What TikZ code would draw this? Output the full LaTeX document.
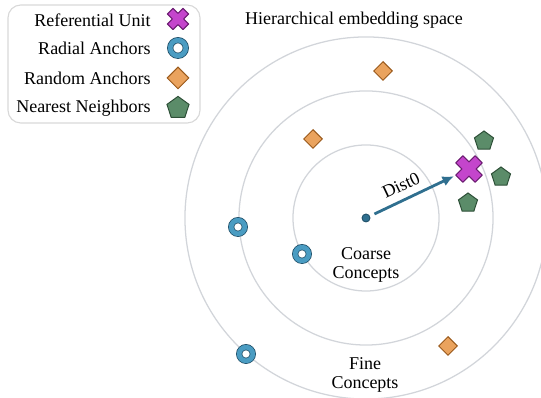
\documentclass[tikz,border=0pt]{standalone}
\usepackage{fontspec}
\setmainfont{Liberation Serif}
\usepackage{xcolor}
\usetikzlibrary{shapes.geometric,arrows.meta}
\definecolor{gris}{HTML}{D2D5DA}
\definecolor{grisCadre}{HTML}{D8D8D8}
\definecolor{violetX}{HTML}{C445CC}
\definecolor{violetBord}{HTML}{6A1C70}
\definecolor{bleuAnneau}{HTML}{4A9CC2}
\definecolor{bleuBord}{HTML}{1E4D66}
\definecolor{bleuFleche}{HTML}{2F6F8F}
\definecolor{orangeLosange}{HTML}{EAA35E}
\definecolor{orangeBord}{HTML}{9A5A1C}
\definecolor{vertPenta}{HTML}{5B8C69}
\definecolor{vertBord}{HTML}{2D4F37}

\begin{document}
\begin{tikzpicture}[x=0.025cm,y=-0.025cm]
% Styles
\tikzstyle{texte}=[font=\fontsize{12.8}{13.5}\selectfont,inner sep=0pt]
\tikzstyle{cercle}=[draw=gris,line width=0.9pt]
\tikzstyle{cadre}=[draw=grisCadre,line width=0.8pt,rounded corners=0.32cm]
\tikzstyle{fleche}=[-{Latex[length=8pt,width=7.5pt]},line width=2pt,draw=bleuFleche,shorten <=3.5pt,shorten >=4pt]
\tikzstyle{croix}=[fill=violetX,draw=violetBord,line width=0.8pt,line join=round]
\tikzstyle{anneau}=[circle,inner sep=0pt,minimum size=0.34cm,fill=white,draw=bleuBord,double=bleuAnneau,double distance=3.3pt,line width=0.55pt]
\tikzstyle{losange}=[diamond,inner sep=0pt,minimum size=0.475cm,fill=orangeLosange,draw=orangeBord,line width=0.7pt]
\tikzstyle{penta}=[regular polygon,regular polygon sides=5,inner sep=0pt,minimum size=0.5cm,fill=vertPenta,draw=vertBord,line width=0.7pt]
\tikzstyle{point}=[circle,inner sep=0pt,minimum size=0.2cm,fill=bleuFleche,draw=bleuBord,line width=0.6pt]
\tikzstyle{place}=[circle,inner sep=0pt,minimum size=0.55cm]
% Dimensions
\def\RayonA{1.825cm}
\def\RayonB{3.175cm}
\def\RayonC{4.525cm}
\newcommand\DessineCroix[2]{\draw[croix,shift={(#1)},rotate=45,scale=#2] (4,4) -- (4,11) -- (-4,11) -- (-4,4) -- (-11,4) -- (-11,-4) -- (-4,-4) -- (-4,-11) -- (4,-11) -- (4,-4) -- (11,-4) -- (11,4) -- cycle;}
\useasboundingbox (0,0) rectangle (541,398);
% Cercles
\coordinate (C) at (366,218);
\begin{scope}
\clip (0,0) rectangle (541,398);
\draw[cercle] (C) circle (\RayonA);
\draw[cercle] (C) circle (\RayonB);
\draw[cercle] (C) circle (\RayonC);
\end{scope}
% Legende
\draw[cadre] (8,5) rectangle (200,123);
\node[texte,anchor=east] (LRef) at (151,20) {Referential Unit};
\node[texte,anchor=east] (LRad) at (151,48) {Radial Anchors};
\node[texte,anchor=east] (LAle) at (151,78) {Random Anchors};
\node[texte,anchor=east] (LVoi) at (151,108) {Nearest Neighbors};
\node[place] (SRef) at (178,19) {};
\DessineCroix{SRef}{1}
\node[anneau,minimum size=0.39cm] (SRad) at (178,48) {};
\node[losange,minimum size=0.55cm] (SAle) at (178,78) {};
\node[penta,minimum size=0.58cm] (SVoi) at (178,108) {};
% Titres
\node[texte] (titre) at (354,20) {Hierarchical embedding space};
\node[texte,align=center] (grossier) at (366,265) {Coarse\\Concepts};
\node[texte,align=center] (fin) at (365,375) {Fine\\Concepts};
% Noeuds
\node[losange] (A1) at (383,71) {};
\node[losange] (A2) at (313,139) {};
\node[losange] (A3) at (448,346) {};
\node[anneau] (R1) at (238,227) {};
\node[anneau] (R2) at (302,254) {};
\node[anneau] (R3) at (246,354) {};
\node[penta] (V1) at (484,141) {};
\node[penta] (V2) at (501,177) {};
\node[penta] (V3) at (468,203) {};
\node[point] (O) at (C) {};
\node[place] (X) at (469,169) {};
\DessineCroix{X}{1.25}
% Arcs
\draw[fleche] (O) -- node[texte,pos=0.42,above=5pt,sloped] (dist) {Dist0} (X);
\end{tikzpicture}
\end{document}
